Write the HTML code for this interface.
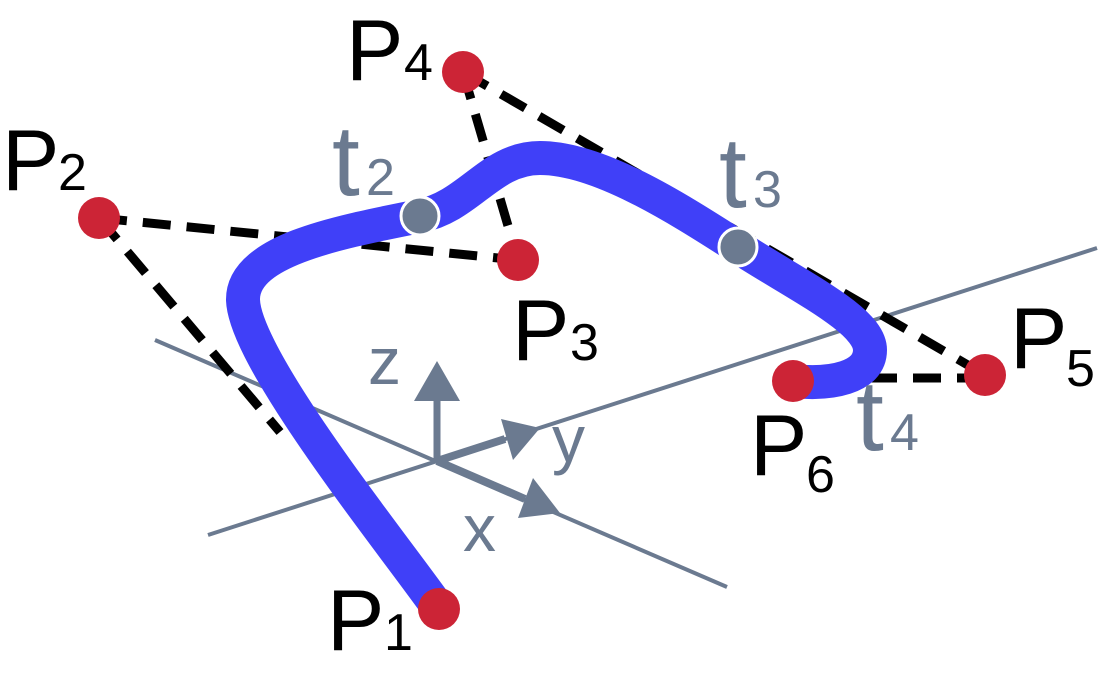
<!DOCTYPE html>
<html><head><meta charset="utf-8"><style>
html,body{margin:0;padding:0;background:#fff;}
svg{display:block;}
text{font-family:"Liberation Sans",sans-serif;}
</style></head><body>
<svg width="1099" height="678" viewBox="0 0 1099 678" xmlns="http://www.w3.org/2000/svg">
<g stroke="#6b7a90" fill="#6b7a90">
<line x1="155" y1="340" x2="727" y2="587" stroke-width="4"/>
<line x1="208" y1="535" x2="1097" y2="248" stroke-width="4"/>
<line x1="437" y1="461" x2="437" y2="398" stroke-width="7"/>
<polygon points="437,361 414,401 460,401" stroke="none"/>
<line x1="437" y1="461" x2="505" y2="439" stroke-width="8"/>
<polygon points="540,428 501,419 513,460" stroke="none"/>
<line x1="437" y1="461" x2="525" y2="499" stroke-width="8"/>
<polygon points="560,513 533,478 518,518" stroke="none"/>
</g>
<g stroke="#000" stroke-width="9" stroke-dasharray="28,16" fill="none">
<line x1="99" y1="218" x2="518" y2="260"/>
<line x1="99" y1="218" x2="280" y2="432"/>
<line x1="463" y1="72" x2="518" y2="260"/>
<line x1="463" y1="72" x2="985" y2="375"/>
<line x1="985" y1="378" x2="860" y2="378"/>
</g>
<path d="M439,609 C390,540 245,360 243,300 C242,250 340,232 420,216 C470,206 490,158 540,158 C600,158 680,210 738,247 C800,287 870,320 870,350 C870,378 830,385 793,381" fill="none" stroke="#4040f8" stroke-width="34"/>
<g fill="#cc2436">
<circle cx="439" cy="609" r="21"/>
<circle cx="99" cy="218" r="21"/>
<circle cx="518" cy="260" r="21"/>
<circle cx="463" cy="72" r="21"/>
<circle cx="985" cy="375" r="21"/>
<circle cx="793" cy="381" r="21"/>
</g>
<g fill="#6b7a90" stroke="#fff" stroke-width="3">
<circle cx="420" cy="216" r="19"/>
<circle cx="738" cy="247" r="19"/>
</g>
<g fill="#000">
<text x="2" y="190" font-size="86">P</text><text x="58" y="190" font-size="52">2</text>
<text x="346" y="80" font-size="86">P</text><text x="404" y="80" font-size="52">4</text>
<text x="512" y="360" font-size="86">P</text><text x="570" y="360" font-size="52">3</text>
<text x="1010" y="368" font-size="86">P</text><text x="1066" y="386" font-size="52">5</text>
<text x="750" y="475" font-size="86">P</text><text x="806" y="492" font-size="52">6</text>
<text x="327" y="650" font-size="86">P</text><text x="384" y="650" font-size="52">1</text>
</g>
<g fill="#6b7a90">
<text x="332" y="195" font-size="100">t</text><text x="366" y="195" font-size="52">2</text>
<text x="719" y="207" font-size="100">t</text><text x="753" y="207" font-size="52">3</text>
<text x="856" y="450" font-size="100">t</text><text x="890" y="450" font-size="52">4</text>
<text x="368" y="384" font-size="66">z</text>
<text x="552" y="462" font-size="66">y</text>
<text x="463" y="551" font-size="66">x</text>
</g>
</svg>
</body></html>
